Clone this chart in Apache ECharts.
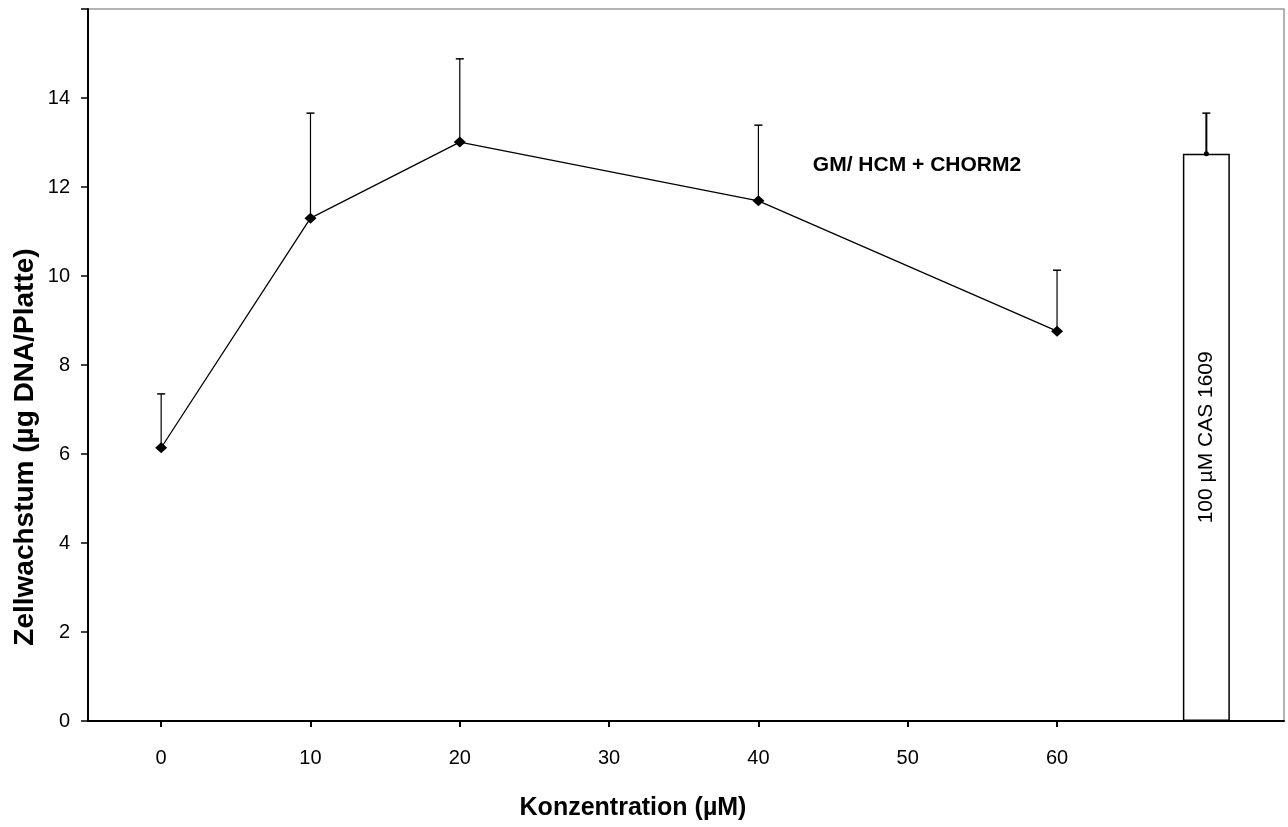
<!DOCTYPE html>
<html>
<head>
<meta charset="utf-8">
<title>Zellwachstum</title>
<script src="https://cdn.jsdelivr.net/npm/echarts@6/dist/echarts.min.js"></script>
<style>
  html, body { margin: 0; padding: 0; background: #fff; }
  #chart { width: 1288px; height: 827px; }
</style>
</head>
<body>
<div id="chart"></div>
<script>
// Concentration series (GM/ HCM + CHORM2)
const concentrations = [0, 10, 20, 40, 60];
const growthMean     = [6.14, 11.30, 13.01, 11.69, 8.76];
const growthUpper    = [7.35, 13.66, 14.88, 13.39, 10.13];

// Reference bar: 100 µM CAS 1609
const refPosition = [70];
const refMean     = [12.75];
const refUpper    = [13.66];

const xTickValues = [0, 10, 20, 30, 40, 50, 60];
const yTicks      = [0, 2, 4, 6, 8, 10, 12, 14, 16];

const FONT = '"Liberation Sans", Arial, sans-serif';

const lineData = concentrations.map((x, i) => [x, growthMean[i]]);
const errData  = concentrations.map((x, i) => [x, growthMean[i], growthUpper[i]]);
const refBar   = refPosition.map((x, i) => [x, refMean[i]]);
const refErr   = refPosition.map((x, i) => [x, refMean[i], refUpper[i]]);

function errorBar(lineWidth, dot) {
  return function (params, api) {
    const base = api.coord([api.value(0), api.value(1)]);
    const top = api.coord([api.value(0), api.value(2)]);
    const half = 4;
    const children = [
      { type: 'line', shape: { x1: base[0], y1: base[1], x2: top[0], y2: top[1] },
        style: { stroke: '#000', lineWidth: lineWidth } },
      { type: 'line', shape: { x1: top[0] - half, y1: top[1], x2: top[0] + half, y2: top[1] },
        style: { stroke: '#000', lineWidth: 1.5 } }
    ];
    if (dot) {
      children.push({ type: 'circle', shape: { cx: base[0], cy: base[1], r: 2.5 },
        style: { fill: '#000' } });
    }
    return { type: 'group', children: children };
  };
}

const chart = echarts.init(document.getElementById('chart'), null, { renderer: 'canvas' });

chart.setOption({
  animation: false,
  backgroundColor: '#fff',
  grid: {
    left: 88, right: 4, top: 9, bottom: 106,
    show: true, borderColor: '#9a9a9a', borderWidth: 1.5, backgroundColor: 'transparent'
  },
  xAxis: {
    type: 'value',
    min: -4.9,
    max: 75.2,
    splitLine: { show: false },
    axisLine: { onZero: false, lineStyle: { color: '#000', width: 2 } },
    axisTick: { show: true, length: 6, lineStyle: { color: '#000', width: 2 }, customValues: xTickValues },
    axisLabel: { customValues: xTickValues, color: '#000', fontFamily: FONT, fontSize: 20, margin: 27 }
  },
  yAxis: {
    type: 'value',
    min: yTicks[0],
    max: yTicks[yTicks.length - 1],
    interval: 2,
    splitLine: { show: false },
    axisLine: { show: true, onZero: false, lineStyle: { color: '#000', width: 2 } },
    axisTick: { show: true, length: 7, lineStyle: { color: '#000', width: 1.5 } },
    axisLabel: {
      color: '#000', fontFamily: FONT, fontSize: 20, margin: 18,
      formatter: v => (v === 16 ? '' : String(v))
    }
  },
  series: [
    {
      type: 'bar',
      data: refBar,
      barWidth: 47,
      itemStyle: { color: '#fff', borderColor: '#000', borderWidth: 1.5 },
      label: {
        show: true,
        position: 'inside',
        rotate: 90,
        formatter: '100 µM CAS 1609',
        color: '#000',
        fontFamily: FONT,
        fontSize: 21
      },
      z: 2
    },
    {
      type: 'custom',
      data: refErr,
      renderItem: errorBar(2, true),
      z: 3
    },
    {
      type: 'custom',
      data: errData,
      renderItem: errorBar(1.2, false),
      z: 3
    },
    {
      type: 'line',
      data: lineData,
      symbol: 'diamond',
      symbolSize: [12, 11],
      lineStyle: { color: '#000', width: 1.3 },
      itemStyle: { color: '#000' },
      z: 4
    }
  ],
  graphic: [
    {
      type: 'text',
      x: 633, y: 808,
      style: {
        text: 'Konzentration (µM)',
        align: 'center', verticalAlign: 'middle',
        font: 'bold 25px ' + FONT, fill: '#000'
      }
    },
    {
      type: 'text',
      x: 25, y: 447,
      rotation: Math.PI / 2,
      style: {
        text: 'Zellwachstum (µg DNA/Platte)',
        align: 'center', verticalAlign: 'middle',
        font: 'bold 28px ' + FONT, fill: '#000'
      }
    },
    {
      type: 'text',
      x: 917, y: 165,
      style: {
        text: 'GM/ HCM + CHORM2',
        align: 'center', verticalAlign: 'middle',
        font: 'bold 21px ' + FONT, fill: '#000'
      }
    }
  ]
});
</script>
</body>
</html>
